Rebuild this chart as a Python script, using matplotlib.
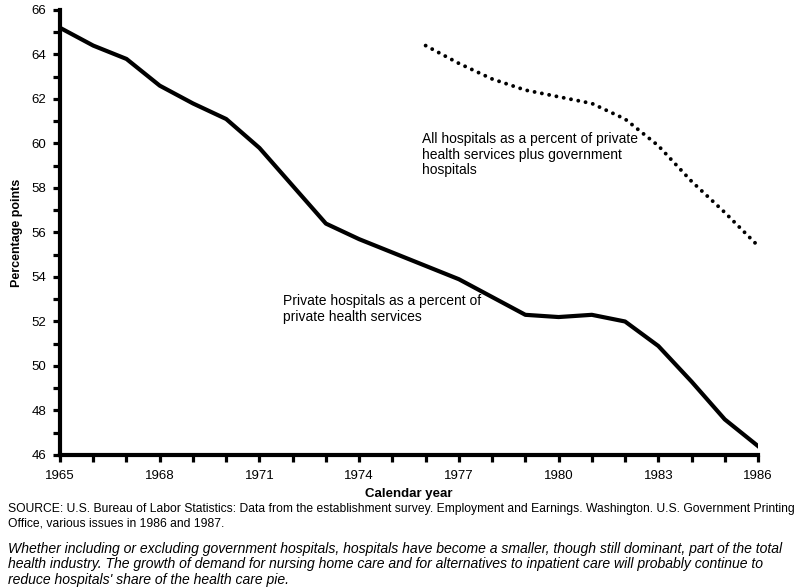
import matplotlib
matplotlib.use("Agg")
import matplotlib.pyplot as plt

plt.rcParams['font.family'] = ['Liberation Sans', 'DejaVu Sans']

years_private = list(range(1965, 1987))
private_share = [65.2, 64.4, 63.8, 62.6, 61.8, 61.1, 59.8, 58.1, 56.4, 55.7,
                 55.1, 54.5, 53.9, 53.1, 52.3, 52.2, 52.3, 52.0, 50.9, 49.3,
                 47.6, 46.4]

years_all = list(range(1976, 1987))
all_share = [64.4, 63.6, 62.9, 62.4, 62.1, 61.8, 61.1, 59.9, 58.3, 56.9, 55.4]

xticks_major = [1965, 1968, 1971, 1974, 1977, 1980, 1983, 1986]
yticks = list(range(46, 67, 2))

fig = plt.figure(figsize=(7.98, 5.88), dpi=100)
ax = fig.add_axes([0.0752, 0.2262, 0.8747, 0.7568])

ax.plot(years_private, private_share, color='black', lw=3.0, solid_joinstyle='round')
ax.plot(years_all, all_share, color='black', lw=2.8,
        linestyle=(0, (0.01, 1.9)), dash_capstyle='round')

ax.set_xlim(1965, 1986)
ax.set_ylim(46, 66)
ax.set_xticks(xticks_major)
ax.set_xticks(range(1965, 1987), minor=True)
ax.set_yticks(yticks)
ax.set_yticks(range(46, 67), minor=True)
ax.set_xticklabels([str(y) for y in xticks_major])
ax.set_yticklabels([str(y) for y in yticks])

for s in ['top', 'right']:
    ax.spines[s].set_visible(False)
for s in ['left', 'bottom']:
    ax.spines[s].set_linewidth(3.0)
    ax.spines[s].set_capstyle('projecting')

ax.tick_params(axis='both', which='both', direction='out', width=2.3, labelsize=9.5)
ax.tick_params(axis='x', which='both', length=5, pad=6)
ax.tick_params(axis='y', which='both', length=5, pad=5)

ax.set_ylabel('Percentage points', fontsize=9, fontweight='bold', labelpad=6)
ax.set_xlabel('Calendar year', fontsize=9.5, fontweight='bold', labelpad=4)

ax.text(1971.7, 52.55, 'Private hospitals as a percent of\nprivate health services',
        fontsize=10, va='center', ha='left', linespacing=1.16)
ax.text(1975.9, 59.5, 'All hospitals as a percent of private\nhealth services plus government\nhospitals',
        fontsize=10, va='center', ha='left', linespacing=1.16)

fig.text(0.010, 0.122,
         'SOURCE: U.S. Bureau of Labor Statistics: Data from the establishment survey. Employment and Earnings. Washington. U.S. Government Printing\n'
         'Office, various issues in 1986 and 1987.',
         fontsize=8.7, va='center', ha='left', linespacing=1.3)
fig.text(0.010, 0.040,
         "Whether including or excluding government hospitals, hospitals have become a smaller, though still dominant, part of the total\n"
         "health industry. The growth of demand for nursing home care and for alternatives to inpatient care will probably continue to\n"
         "reduce hospitals' share of the health care pie.",
         fontsize=10.1, style='italic', va='center', ha='left', linespacing=1.15)

fig.savefig('out.png', dpi=100)
